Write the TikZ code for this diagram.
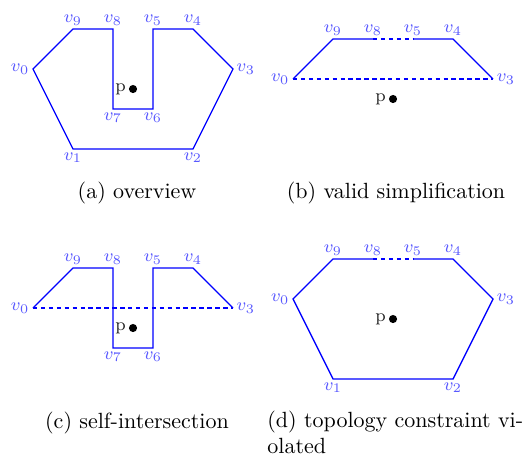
\documentclass[tikz,border=0pt]{standalone}
\usetikzlibrary{calc}
\begin{document}
\begin{tikzpicture}[x=0.4545pt,y=-0.4545pt,
  edge/.style={draw=blue, line width=0.6pt},
  dashedge/.style={draw=blue, line width=0.6pt, dash pattern=on 2pt off 1.6pt},
  vlab/.style={text=blue!65, font=\fontsize{8}{9}\selectfont, inner sep=1.5pt},
  pdot/.style={circle, fill=black, inner sep=0pt, minimum size=3.7pt},
  plab/.style={text=black!85, font=\fontsize{8}{9}\selectfont, inner sep=1pt, anchor=east},
  captext/.style={font=\fontsize{10}{12}\selectfont, inner sep=0pt}]
\useasboundingbox (0,0) rectangle (527,455);

% ---------- (a) overview ----------
\begin{scope}[shift={(15pt,-67.73pt)}, x=18.18pt, y=18.18pt]
  \coordinate[label={[vlab]left:$v_0$}] (a0) at (0,2);
  \coordinate[label={[vlab]below:$v_1$}] (a1) at (1,0);
  \coordinate[label={[vlab]below:$v_2$}] (a2) at (4,0);
  \coordinate[label={[vlab]right:$v_3$}] (a3) at (5,2);
  \coordinate[label={[vlab]above:$v_4$}] (a4) at (4,3);
  \coordinate[label={[vlab]above:$v_5$}] (a5) at (3,3);
  \coordinate[label={[vlab]below:$v_6$}] (a6) at (3,1);
  \coordinate[label={[vlab]below:$v_7$}] (a7) at (2,1);
  \coordinate[label={[vlab]above:$v_8$}] (a8) at (2,3);
  \coordinate[label={[vlab]above:$v_9$}] (a9) at (1,3);
  \node[pdot] (ap) at (2.5,1.5) {};
  \node[plab] (apl) at (ap.west) {p};
  \draw[edge] (a0) -- (a1) -- (a2) -- (a3) -- (a4) -- (a5) -- (a6) -- (a7) -- (a8) -- (a9) -- cycle;
\end{scope}

% ---------- (b) valid simplification ----------
\begin{scope}[shift={(133.18pt,-72.27pt)}, x=18.18pt, y=18.18pt]
  \coordinate[label={[vlab]left:$v_0$}] (b0) at (0,2);
  \coordinate[label={[vlab]right:$v_3$}] (b3) at (5,2);
  \coordinate[label={[vlab]above:$v_4$}] (b4) at (4,3);
  \coordinate[label={[vlab]above:$v_5$}] (b5) at (3,3);
  \coordinate[label={[vlab]above:$v_8$}] (b8) at (2,3);
  \coordinate[label={[vlab]above:$v_9$}] (b9) at (1,3);
  \node[pdot] (bp) at (2.5,1.5) {};
  \node[plab] (bpl) at (bp.west) {p};
  \draw[edge] (b8) -- (b9) -- (b0);
  \draw[edge] (b5) -- (b4) -- (b3);
  \draw[dashedge] (b8) -- (b5);
  \draw[dashedge] (b0) -- (b3);
\end{scope}

% ---------- (c) self-intersection ----------
\begin{scope}[shift={(15pt,-176.36pt)}, x=18.18pt, y=18.18pt]
  \coordinate[label={[vlab]left:$v_0$}] (c0) at (0,2);
  \coordinate[label={[vlab]right:$v_3$}] (c3) at (5,2);
  \coordinate[label={[vlab]above:$v_4$}] (c4) at (4,3);
  \coordinate[label={[vlab]above:$v_5$}] (c5) at (3,3);
  \coordinate[label={[vlab]below:$v_6$}] (c6) at (3,1);
  \coordinate[label={[vlab]below:$v_7$}] (c7) at (2,1);
  \coordinate[label={[vlab]above:$v_8$}] (c8) at (2,3);
  \coordinate[label={[vlab]above:$v_9$}] (c9) at (1,3);
  \node[pdot] (cp) at (2.5,1.5) {};
  \node[plab] (cpl) at (cp.west) {p};
  \draw[edge] (c0) -- (c9) -- (c8) -- (c7) -- (c6) -- (c5) -- (c4) -- (c3);
  \draw[dashedge] (c0) -- (c3);
\end{scope}

% ---------- (d) topology constraint violated ----------
\begin{scope}[shift={(133.18pt,-172.27pt)}, x=18.18pt, y=18.18pt]
  \coordinate[label={[vlab]left:$v_0$}] (d0) at (0,2);
  \coordinate[label={[vlab]below:$v_1$}] (d1) at (1,0);
  \coordinate[label={[vlab]below:$v_2$}] (d2) at (4,0);
  \coordinate[label={[vlab]right:$v_3$}] (d3) at (5,2);
  \coordinate[label={[vlab]above:$v_4$}] (d4) at (4,3);
  \coordinate[label={[vlab]above:$v_5$}] (d5) at (3,3);
  \coordinate[label={[vlab]above:$v_8$}] (d8) at (2,3);
  \coordinate[label={[vlab]above:$v_9$}] (d9) at (1,3);
  \node[pdot] (dp) at (2.5,1.5) {};
  \node[plab] (dpl) at (dp.west) {p};
  \draw[edge] (d8) -- (d9) -- (d0) -- (d1) -- (d2) -- (d3) -- (d4) -- (d5);
  \draw[dashedge] (d8) -- (d5);
\end{scope}

% ---------- captions ----------
\node[captext, anchor=base] (capa) at (137,199) {(a) overview};
\node[captext, anchor=base] (capb) at (396,199) {(b) valid simplification};
\node[captext, anchor=base] (capc) at (137,429) {(c) self-intersection};
\node[captext, anchor=base west] (capd1) at (267,428) {(d) topology constraint vi-};
\node[captext, anchor=base west] (capd2) at (267,454) {olated};
\end{tikzpicture}
\end{document}
